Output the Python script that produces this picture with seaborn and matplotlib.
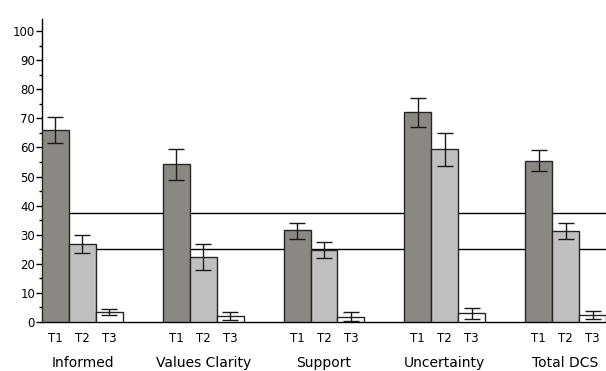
import numpy as np
import pandas as pd
import seaborn as sns
import matplotlib.pyplot as plt
from matplotlib.ticker import MultipleLocator
import matplotlib.transforms as mtransforms

# === data ===
scales = ["Informed", "Values Clarity", "Support", "Uncertainty", "Total DCS"]
times = ["T1", "T2", "T3"]
means = {
    "T1": [66.0, 54.2, 31.6, 72.3, 55.4],
    "T2": [26.8, 22.4, 24.6, 59.5, 31.1],
    "T3": [3.4, 2.0, 1.6, 3.0, 2.5],
}
err_low = {
    "T1": [61.5, 48.8, 28.5, 66.9, 51.9],
    "T2": [23.7, 17.9, 21.9, 53.6, 28.5],
    "T3": [2.3, 0.6, 0.3, 0.9, 1.1],
}
err_high = {
    "T1": [70.4, 59.3, 34.1, 77.1, 59.0],
    "T2": [29.9, 26.8, 27.6, 64.8, 34.1],
    "T3": [4.6, 3.4, 3.4, 4.7, 3.9],
}
ref_lines = [37.5, 25.0]
colors = ["#8b8883", "#c0c0c0", "#ffffff"]

rows = []
for t in times:
    for i, s in enumerate(scales):
        rows.append({"scale": s, "time": t, "mean": means[t][i],
                     "lo": err_low[t][i], "hi": err_high[t][i]})
df = pd.DataFrame(rows)

sns.set_style("ticks")
plt.rcParams['font.family'] = ['DejaVu Sans']
plt.rcParams['text.color'] = 'black'
plt.rcParams['xtick.color'] = 'black'
plt.rcParams['ytick.color'] = 'black'

fig = plt.figure(figsize=(6.06, 3.71), dpi=100)
ax = fig.add_axes([42 / 606, 1 - 322 / 371, 1 - 42 / 606, (322 - 19) / 371])

width = 0.67
sns.barplot(data=df, x="scale", y="mean", hue="time", order=scales, hue_order=times,
            palette=colors, width=width, errorbar=None, edgecolor="#262626",
            linewidth=1.0, legend=False, ax=ax, zorder=3)

# error bars at bar centers
for patch, (_, r) in zip(ax.patches, df.iterrows()):
    xc = patch.get_x() + patch.get_width() / 2
    ax.errorbar(xc, r["mean"], yerr=[[r["mean"] - r["lo"]], [r["hi"] - r["mean"]]],
                fmt="none", ecolor="#1a1a1a", elinewidth=1.0, capsize=5.5, capthick=1.0,
                zorder=4)

for y in ref_lines:
    ax.axhline(y, color="black", lw=1.0, zorder=1)

ax.set_xlim(-width / 2, len(scales) - 1 + width / 2)
ax.set_ylim(0, (322 - 19) / 2.91)
ax.yaxis.set_major_locator(MultipleLocator(10))
ax.yaxis.set_minor_locator(MultipleLocator(5))
ax.set_yticks(range(0, 101, 10))
ax.tick_params(axis="y", which="major", length=4, width=1, labelsize=8.5, pad=1)
ax.tick_params(axis="y", which="minor", length=2, width=1)

# T1/T2/T3 ticks under each bar
bar_w = width / len(times)
xt, xl = [], []
for i in range(len(scales)):
    for j, t in enumerate(times):
        xt.append(i - width / 2 + bar_w * (j + 0.5))
        xl.append(t)
ax.set_xticks(xt)
ax.set_xticklabels(xl, fontsize=8.5)
ax.tick_params(axis="x", length=0, pad=7)
ax.set_xlabel("")
ax.set_ylabel("")

trans = mtransforms.blended_transform_factory(ax.transData, ax.transAxes)
for i, s in enumerate(scales):
    ax.text(i, -0.135, s, transform=trans, ha="center", va="center", fontsize=10)

sns.despine(ax=ax)
for sp in ["left", "bottom"]:
    ax.spines[sp].set_linewidth(1.0)
    ax.spines[sp].set_color("black")

fig.savefig("out.png", dpi=100)
